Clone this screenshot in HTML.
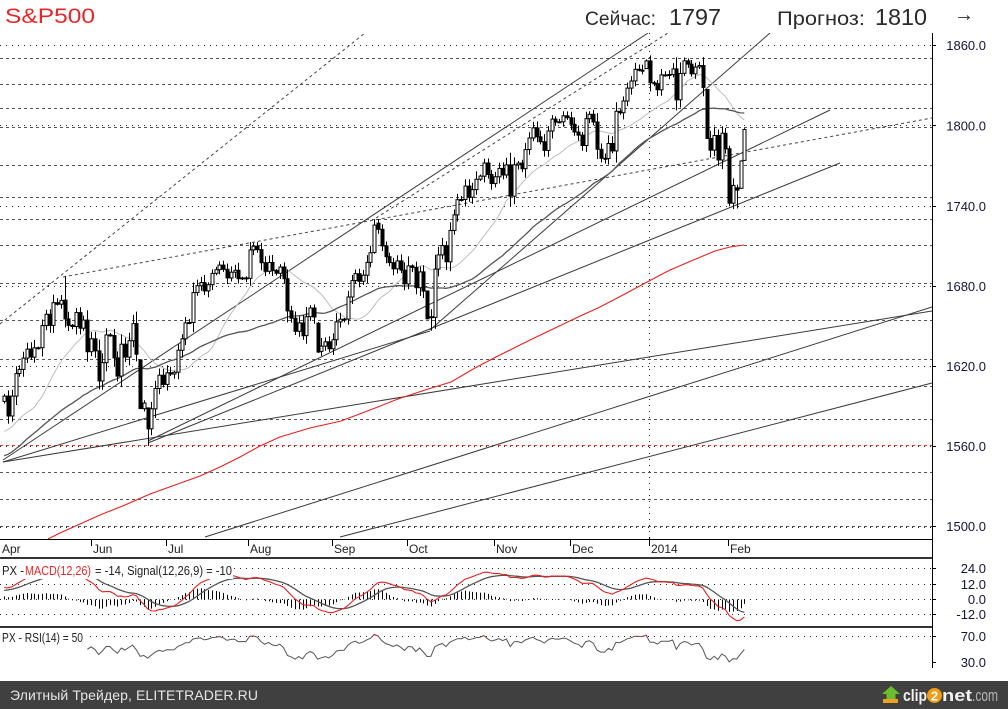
<!DOCTYPE html>
<html><head><meta charset="utf-8"><style>html,body{margin:0;padding:0;background:#fff;width:1008px;height:709px;overflow:hidden}svg{display:block;font-family:"Liberation Sans","DejaVu Sans",sans-serif}</style></head><body>
<svg id="s" width="1008" height="709" viewBox="0 0 1008 709" xmlns="http://www.w3.org/2000/svg">
<defs>
<clipPath id="cm"><rect x="0" y="33" width="932" height="506"/></clipPath>
<clipPath id="cr"><rect x="0" y="620" width="932" height="16.5"/></clipPath>
</defs>
<rect width="1008" height="709" fill="#fff"/>
<!-- header -->
<text x="5" y="23" font-size="21.5" fill="#e8262a" textLength="90" lengthAdjust="spacingAndGlyphs">S&amp;P500</text>
<text x="585" y="25" font-size="19.5" fill="#2a2a2a" textLength="71" lengthAdjust="spacingAndGlyphs">Сейчас:</text>
<text x="669" y="25" font-size="23" fill="#2a2a2a" textLength="52" lengthAdjust="spacingAndGlyphs">1797</text>
<text x="777" y="25" font-size="19.5" fill="#2a2a2a" textLength="88" lengthAdjust="spacingAndGlyphs">Прогноз:</text>
<text x="875" y="25" font-size="23" fill="#2a2a2a" textLength="52" lengthAdjust="spacingAndGlyphs">1810</text>
<text x="954" y="21" font-size="20" fill="#2a2a2a" textLength="20" lengthAdjust="spacingAndGlyphs">→</text>

<g clip-path="url(#cm)" fill="none">
<g stroke="#555" stroke-dasharray="3,3">
<line x1="0" x2="932" y1="58.5" y2="58.5"/><line x1="0" x2="932" y1="84.5" y2="84.5"/><line x1="0" x2="932" y1="108.5" y2="108.5"/><line x1="0" x2="932" y1="127.5" y2="127.5"/><line x1="0" x2="932" y1="165.5" y2="165.5"/><line x1="0" x2="932" y1="197.5" y2="197.5"/><line x1="0" x2="932" y1="219.5" y2="219.5"/><line x1="0" x2="932" y1="245.5" y2="245.5"/><line x1="0" x2="932" y1="283.5" y2="283.5"/><line x1="0" x2="932" y1="320.5" y2="320.5"/><line x1="0" x2="932" y1="359.5" y2="359.5"/><line x1="0" x2="932" y1="386.5" y2="386.5"/><line x1="0" x2="932" y1="419.5" y2="419.5"/><line x1="0" x2="932" y1="472.5" y2="472.5"/><line x1="0" x2="932" y1="499.5" y2="499.5"/><line x1="0" x2="932" y1="526.5" y2="526.5"/>
</g>
<line x1="0" x2="932" y1="445.5" y2="445.5" stroke="#e83030" stroke-dasharray="3,3"/>
<g stroke="#222" stroke-dasharray="1,5">
<line x1="0" x2="932" y1="45.5" y2="45.5"/><line x1="0" x2="932" y1="125.5" y2="125.5"/><line x1="0" x2="932" y1="206.5" y2="206.5"/><line x1="0" x2="932" y1="286.5" y2="286.5"/><line x1="0" x2="932" y1="366.5" y2="366.5"/><line x1="0" x2="932" y1="446.5" y2="446.5"/><line x1="0" x2="932" y1="527.5" y2="527.5"/>
<line x1="649.5" x2="649.5" y1="33" y2="539"/>
</g>
<g stroke="#444" stroke-dasharray="3,3">
<line x1="0" y1="324" x2="365" y2="33"/>
<line x1="63" y1="277" x2="932" y2="118"/>
<line x1="376" y1="218" x2="668" y2="33"/>
</g>
<g stroke="#3a3a3a" stroke-width="1">
<line x1="3" y1="460" x2="648" y2="33"/>
<line x1="148" y1="441" x2="830" y2="110"/>
<line x1="148" y1="443" x2="840" y2="163"/>
<line x1="430" y1="330" x2="770" y2="33"/>
<line x1="3" y1="462" x2="932" y2="311"/>
<line x1="205" y1="537" x2="932" y2="307"/>
<line x1="340" y1="537" x2="932" y2="383"/>
<line x1="3" y1="462" x2="430" y2="331"/>
</g>
<polyline stroke="#e82020" stroke-width="1.1" points="48,539 60,533 80,524 100,515 125,505 150,494 175,485 200,476 220,467 240,457 260,446 280,437 310,428 341,421 370,410 398,399 425,390 451,382 475,368 494,358 512,349 530,340 553,329 576,318 600,307 623,295 649,281 670,270 691,261 715,251 730,247 744,245"/>
<g id="price"></g>
</g>

<!-- axes -->
<line x1="0" x2="932" y1="539.5" y2="539.5" stroke="#000"/>
<line x1="0" x2="932" y1="558" y2="558" stroke="#333" stroke-width="2"/>
<line x1="0" x2="932" y1="627" y2="627" stroke="#333" stroke-width="2"/>
<line x1="932.5" x2="932.5" y1="33" y2="668" stroke="#000"/>
<g stroke="#000">
<line x1="932" x2="936" y1="45.5" y2="45.5"/><line x1="932" x2="936" y1="125.5" y2="125.5"/><line x1="932" x2="936" y1="206.5" y2="206.5"/><line x1="932" x2="936" y1="286.5" y2="286.5"/><line x1="932" x2="936" y1="366.5" y2="366.5"/><line x1="932" x2="936" y1="446.5" y2="446.5"/><line x1="932" x2="936" y1="526.5" y2="526.5"/>
<line x1="932" x2="936" y1="568.5" y2="568.5"/><line x1="932" x2="936" y1="584.5" y2="584.5"/><line x1="932" x2="936" y1="599.5" y2="599.5"/><line x1="932" x2="936" y1="614.5" y2="614.5"/><line x1="932" x2="936" y1="636.5" y2="636.5"/><line x1="932" x2="936" y1="662.5" y2="662.5"/>
<line x1="91.5" x2="91.5" y1="540" y2="546"/><line x1="166.5" x2="166.5" y1="540" y2="546"/><line x1="248.5" x2="248.5" y1="540" y2="546"/><line x1="332.5" x2="332.5" y1="540" y2="546"/><line x1="407.5" x2="407.5" y1="540" y2="546"/><line x1="494.5" x2="494.5" y1="540" y2="546"/><line x1="570.5" x2="570.5" y1="540" y2="546"/><line x1="649.5" x2="649.5" y1="537" y2="546"/><line x1="728.5" x2="728.5" y1="540" y2="546"/>
</g>
<g font-size="13" fill="#14143a" text-anchor="end">
<text x="986" y="50">1860.0</text><text x="986" y="130.5">1800.0</text><text x="986" y="211">1740.0</text><text x="986" y="291">1680.0</text><text x="986" y="371">1620.0</text><text x="986" y="451">1560.0</text><text x="986" y="531">1500.0</text>
<text x="986" y="573">24.0</text><text x="986" y="589">12.0</text><text x="986" y="604">0.0</text><text x="986" y="619">-12.0</text><text x="986" y="641">70.0</text><text x="986" y="667">30.0</text>
</g>
<g font-size="12" fill="#222">
<text x="2" y="553">Apr</text><text x="93" y="553">Jun</text><text x="168" y="553">Jul</text><text x="250" y="553">Aug</text><text x="334" y="553">Sep</text><text x="409" y="553">Oct</text><text x="496" y="553">Nov</text><text x="572" y="553">Dec</text><text x="651" y="553">2014</text><text x="730" y="553">Feb</text>
</g>

<!-- MACD / RSI grids -->
<g stroke="#222" stroke-dasharray="1,5">
<line x1="0" x2="932" y1="568.5" y2="568.5"/><line x1="0" x2="932" y1="584.5" y2="584.5"/><line x1="0" x2="932" y1="599.5" y2="599.5"/><line x1="0" x2="932" y1="614.5" y2="614.5"/><line x1="0" x2="932" y1="636.5" y2="636.5"/>
</g>
<g id="ind"></g>
<rect x="0" y="560" width="233" height="19" fill="#fff"/>
<text x="2" y="575" font-size="12.5" fill="#222" textLength="22" lengthAdjust="spacingAndGlyphs">PX -</text>
<text x="25" y="575" font-size="12.5" fill="#e8262a" textLength="66" lengthAdjust="spacingAndGlyphs">MACD(12,26)</text>
<text x="95" y="575" font-size="12.5" fill="#222" textLength="137" lengthAdjust="spacingAndGlyphs">= -14, Signal(12,26,9) = -10</text>
<rect x="0" y="629" width="85" height="17" fill="#fff"/>
<text x="2" y="642" font-size="12.5" fill="#222" textLength="81" lengthAdjust="spacingAndGlyphs">PX - RSI(14) = 50</text>

<!-- footer -->
<rect x="0" y="681" width="1008" height="28" fill="#404040"/>
<text x="10" y="700" font-size="14" fill="#e6e6e6" textLength="248" lengthAdjust="spacing">Элитный Трейдер, ELITETRADER.RU</text>
<polygon points="891,686 900,694 895.5,694 895.5,700 886.5,700 886.5,694 882,694" fill="#6cbd2e"/>
<rect x="883" y="699" width="15" height="4" fill="#f0a020"/>
<text x="903" y="701" font-size="17" font-weight="bold" fill="#f2f2f2" textLength="24" lengthAdjust="spacingAndGlyphs">clip</text>
<circle cx="934.5" cy="695.5" r="7.5" fill="#f39c12"/>
<text x="934.5" y="700.5" font-size="13" font-weight="bold" fill="#fff" text-anchor="middle">2</text>
<text x="942" y="701" font-size="17" font-weight="bold" fill="#f2f2f2" textLength="30" lengthAdjust="spacingAndGlyphs">net</text>
<text x="972" y="701" font-size="17" fill="#b4b4b4" textLength="26" lengthAdjust="spacingAndGlyphs">.com</text>
</svg>
<script>
(function(){
var pre=[1519.79,1530.94,1511.95,1502.42,1515.60,1487.85,1496.94,1515.99,1514.68,1518.20,1525.20,1539.79,1541.46,1544.26,1551.18,1556.22,1552.48,1554.52,1563.23,1560.70,1552.10,1548.34,1558.71,1545.80,1556.89,1551.69,1563.77,1562.85,1569.19,1562.17,1570.25,1553.69,1559.98,1553.28,1563.07,1568.61,1587.73,1593.37,1588.85,1552.36,1574.57,1552.01,1541.61,1555.25,1562.50,1578.78,1578.79,1585.16,1582.24,1593.61];
var C=[1597.57,
1582.70,1597.59,1614.42,1617.50,1625.96,1632.69,1626.67,1633.70,1633.77,1650.34,1658.78,1650.47,1667.47,1666.29,1669.16,1655.35,1650.51,1649.60,1660.06,1648.36,1654.41,1630.74,
1640.42,1631.38,1608.90,1622.56,1643.38,1642.81,1626.13,1612.52,1636.36,1626.73,1639.04,1651.81,1628.93,1588.19,1592.43,1573.09,1588.03,1603.26,1613.20,1606.28,
1614.96,1614.08,1615.41,1631.89,1640.46,1652.32,1652.62,1675.02,1680.19,1682.50,1676.26,1680.91,1689.37,1692.09,1695.53,1692.39,1685.94,1690.25,1691.65,1685.33,1685.96,1685.73,
1706.87,1709.67,1707.14,1697.37,1690.91,1697.48,1691.42,1689.47,1694.16,1685.39,1661.32,1655.83,1646.06,1652.35,1642.80,1656.96,1663.50,1656.78,1630.48,1634.96,1638.17,1632.97,
1639.77,1653.08,1655.08,1655.17,1671.71,1683.99,1689.13,1683.42,1687.99,1697.60,1704.76,1725.52,1722.34,1709.91,1701.84,1697.42,1692.77,1698.67,1691.75,1681.55,
1695.00,1693.87,1678.66,1690.50,1676.12,1655.45,1656.40,1692.56,1703.20,1710.14,1698.06,1721.54,1733.15,1744.50,1744.66,1754.67,1746.38,1752.07,1759.77,1762.11,1771.95,1763.31,1756.54,
1761.64,1767.93,1762.97,1770.49,1747.15,1770.61,1771.89,1767.69,1782.00,1790.62,1798.18,1791.53,1787.87,1781.37,1795.85,1804.76,1802.48,1802.75,1807.23,1805.81,
1800.90,1795.15,1792.81,1785.03,1805.09,1808.37,1802.62,1782.22,1775.50,1775.32,1786.54,1781.00,1810.65,1809.60,1818.32,1827.99,1833.32,1842.02,1841.40,1841.07,1848.36,
1831.98,1831.37,1826.77,1837.88,1837.49,1838.13,1842.37,1819.20,1838.88,1848.38,1845.89,1838.70,1843.80,1844.86,1828.46,1790.29,1781.56,1792.50,1774.20,1794.19,1782.59,
1741.89,1755.20,1751.64,1773.43,1797.02];
var all=pre.concat(C),P=pre.length,N=C.length;
function X(i){return 4.2+i*3.776;}
function Y(p){return 45.3+(1860-p)*1.3367;}
var OV={16:[1669.39,1687.18,1648.86],36:[1624.62,1624.62,1588.03],38:[1588.77,1588.77,1560.33],83:[1652,1653,1630],84:[1631,1641,1627.47],98:[1705,1729.44,1704],99:[1727,1729.86,1719],112:[1676.22,1676.22,1655.03],113:[1656.99,1662.47,1646.47],170:[1842.61,1849.44,1842.41],180:[1839,1850.84,1837],186:[1826.96,1826.96,1790.29],192:[1782.68,1784.83,1739.66],194:[1753.38,1755.79,1737.92],195:[1752.99,1774.06,1752.63],196:[1773.94,1798.03,1773.94]};
function sma(n,col,w){var pts=[];for(var i=0;i<N;i++){var s=0;for(var k=0;k<n;k++)s+=all[P+i-k];pts.push(X(i).toFixed(1)+','+Y(s/n).toFixed(1));}return '<polyline points="'+pts.join(' ')+'" fill="none" stroke="'+col+'" stroke-width="'+w+'"/>';}
var g='';
g+=sma(20,'#bdbdbd',1);
g+=sma(50,'#555',1.3);
for(var i=0;i<N;i++){
 var c=C[i],o=i?C[i-1]:1593.61,h,l;
 if(OV[i]){o=OV[i][0];h=Math.max(OV[i][1],o,c);l=Math.min(OV[i][2],o,c);}
 else{var d=Math.abs(c-o);h=Math.max(o,c)+0.8+0.2*d+((i*37)%9)*0.45;l=Math.min(o,c)-0.8-0.2*d-((i*53)%7)*0.5;}
 var cx=Math.round(X(i)),top=Y(Math.max(o,c)),bot=Y(Math.min(o,c));
 g+='<line x1="'+(cx+0.5)+'" x2="'+(cx+0.5)+'" y1="'+Y(h).toFixed(1)+'" y2="'+Y(l).toFixed(1)+'" stroke="#000"/>';
 var hh=Math.max(bot-top,1);
 g+='<rect x="'+(cx-1)+'" y="'+top.toFixed(1)+'" width="3" height="'+hh.toFixed(1)+'" fill="'+(c>=o?'#fff':'#000')+'" stroke="#000"/>';
}
document.getElementById('price').innerHTML=g;
function ema(arr,n){var k=2/(n+1),e=arr[0],out=[];for(var j=0;j<arr.length;j++){e=arr[j]*k+e*(1-k);out.push(e);}return out;}
var e12=ema(all,12),e26=ema(all,26),macd=all.map(function(v,j){return e12[j]-e26[j];}),sig=ema(macd,9);
function MY(v){return 599.3-v*1.283;}
var hist='',mp=[],sp=[];
for(i=0;i<N;i++){var m=macd[P+i],s=sig[P+i],x=Math.round(X(i))+0.5;
 hist+='<line x1="'+x+'" x2="'+x+'" y1="599.5" y2="'+MY(m-s).toFixed(1)+'" stroke="#000"/>';
 mp.push(X(i).toFixed(1)+','+MY(m).toFixed(1));sp.push(X(i).toFixed(1)+','+MY(s).toFixed(1));}
var ag=0,al=0,rsi=[],n=14;
for(var j=1;j<all.length;j++){var dd=all[j]-all[j-1],gg=Math.max(dd,0),ll=Math.max(-dd,0);
 if(j<=n){ag+=gg/n;al+=ll/n;}else{ag=(ag*(n-1)+gg)/n;al=(al*(n-1)+ll)/n;}
 rsi[j]=100-100/(1+ag/(al||1e-9));}
function RY(v){return 636-(v-70)*0.667;}
var rp=[];for(i=22;i<N;i++){rp.push(X(i).toFixed(1)+','+RY(rsi[P+i]).toFixed(1));}
var ind=hist+'<polyline points="'+sp.join(' ')+'" fill="none" stroke="#555" stroke-width="1.3"/>'+
'<polyline points="'+mp.join(' ')+'" fill="none" stroke="#e82020" stroke-width="1.1"/>'+
'<polyline points="'+rp.join(' ')+'" fill="none" stroke="#555" stroke-width="1"/>'+
'<polyline clip-path="url(#cr)" points="'+rp.join(' ')+'" fill="none" stroke="#e82020" stroke-width="1.2" stroke-dasharray="3,2"/>';
document.getElementById('ind').innerHTML=ind;
})();
</script>
</body></html>
